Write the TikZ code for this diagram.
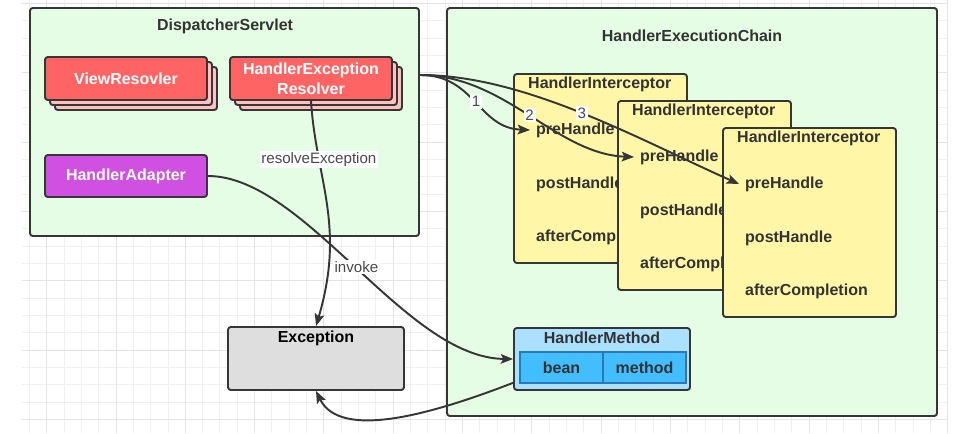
\documentclass[tikz,border=0pt]{standalone}
\usepackage{fontspec}
\setmainfont{Liberation Sans}
\usetikzlibrary{fit,shadows,arrows.meta}
\definecolor{bggreen}{HTML}{E4FDE4}
\definecolor{redfront}{HTML}{FF6464}
\definecolor{pinkback}{HTML}{FFC0C0}
\definecolor{adapterpink}{HTML}{D050E2}
\definecolor{hiyellow}{HTML}{FFF6A8}
\definecolor{hmblue}{HTML}{ACE0FF}
\definecolor{cellblue}{HTML}{42BDFE}
\definecolor{cellline}{HTML}{2A78B8}
\definecolor{excgray}{HTML}{DEDEDE}
\definecolor{linedark}{HTML}{363636}
\definecolor{textdark}{HTML}{333333}
\definecolor{labelgray}{HTML}{4A4A4A}
\definecolor{gridminor}{HTML}{F0F0F0}
\definecolor{gridmaj}{HTML}{E4E4E4}
\begin{document}
\begin{tikzpicture}[x=0.02cm,y=-0.02cm,
	every node/.style={font=\fontsize{9.1}{11.3}\selectfont\bfseries,text=textdark},
	boxframe/.style={draw=linedark,line width=1.1pt,rounded corners=1.6pt,inner sep=0pt},
	stackbox/.style={boxframe,fill=redfront,
		double copy shadow={shadow xshift=0.1cm,shadow yshift=-0.1cm,fill=pinkback,draw=linedark,line width=1.1pt}},
	cellbox/.style={draw=cellline,line width=0.6pt,fill=cellblue,inner sep=0pt},
	flow/.style={draw=linedark,line width=1.1pt,-{Stealth[length=7pt,width=5.5pt,inset=1.5pt]}},
	edgetag/.style={font=\fontsize{8.6}{10}\selectfont,text=labelgray,fill=white,inner sep=1pt},
	gridline/.style={draw=gridminor,line width=0.5pt},
	gridmajor/.style={draw=gridmaj,line width=0.5pt}]
\useasboundingbox (0,0) rectangle (962,433);
% grid
\foreach \gx in {0,...,53} \draw[gridline] ({29.3+17.33*\gx},0) -- ({29.3+17.33*\gx},433);
\foreach \gy in {0,...,24} \draw[gridline] (22,{3.35+17.33*\gy}) -- (948,{3.35+17.33*\gy});
\foreach \gx in {1,5,...,53} \draw[gridmajor] ({29.3+17.33*\gx},0) -- ({29.3+17.33*\gx},433);
\foreach \gy in {0,4,...,24} \draw[gridmajor] (22,{3.35+17.33*\gy}) -- (948,{3.35+17.33*\gy});

% DispatcherServlet
\node[boxframe,fill=bggreen,fit={(30,8) (419,236)}] (ds) {};
\node (dstitle) at (225,26) {DispatcherServlet};
\node[stackbox,fit={(45,57) (207,100)}] (vr) {};
\node[text=white] (vrtext) at (vr.center) {ViewResovler};
\node[stackbox,fit={(230,57) (392,100)}] (her) {};
\node[text=white,align=center] (hertext) at (her.center) {HandlerException\\Resolver};
\node[boxframe,fill=adapterpink,fit={(45,155) (207,197)}] (ha) {};
\node[text=white] (hatext) at (ha.center) {HandlerAdapter};

% HandlerExecutionChain
\node[boxframe,fill=bggreen,fit={(447,8) (937,416)}] (hec) {};
\node (hectitle) at (692,36) {HandlerExecutionChain};
\foreach \n/\l/\t in {1/514/74,2/618/101,3/723/128}{
	\node[boxframe,fill=hiyellow,fit={(\l,\t) ({\l+173},{\t+189})}] (hi\n) {};
	\node[anchor=west] (hititle\n) at ({\l+8},{\t+10}) {HandlerInterceptor};
	\node[anchor=west] (pre\n) at ({\l+16},{\t+56}) {preHandle};
	\node[anchor=west] (post\n) at ({\l+16},{\t+110}) {postHandle};
	\node[anchor=west] (after\n) at ({\l+16},{\t+163}) {afterCompletion};
}

% Exception and HandlerMethod
\node[boxframe,fill=excgray,fit={(228,327) (404,390)}] (exc) {};
\node[text=black] (exctitle) at (316,338) {Exception};
\node[boxframe,fill=hmblue,fit={(514,328) (690,390)}] (hm) {};
\node (hmtitle) at (602,338) {HandlerMethod};
\node[cellbox,fit={(520,352) (603,383)}] (bean) {};
\node (beantext) at (bean.center) {bean};
\node[cellbox,fit={(603,352) (686,383)}] (method) {};
\node (methodtext) at (method.center) {method};

% connectors
\coordinate (fork) at (420,75);
\draw[flow] (fork) .. controls (475,75) and (478,128) .. (pre1.west) node[edgetag,pos=0.5] {1};
\draw[flow] (fork) .. controls (505,75) and (556,154) .. (pre2.west) node[edgetag,pos=0.5] {2};
\draw[flow] (fork) .. controls (525,75) and (640,140) .. (pre3.west) node[edgetag,pos=0.5] {3};
\draw[flow] (her.south) .. controls (316,180) and (346,225) .. (exc.north) node[edgetag,pos=0.27] {resolveException};
\draw[flow] (ha.east) .. controls (305,176) and (405,358) .. (hm.west) node[edgetag,pos=0.5] {invoke};
\draw[flow] (hm.195) .. controls (430,415) and (340,440) .. (exc.south);
\end{tikzpicture}
\end{document}
